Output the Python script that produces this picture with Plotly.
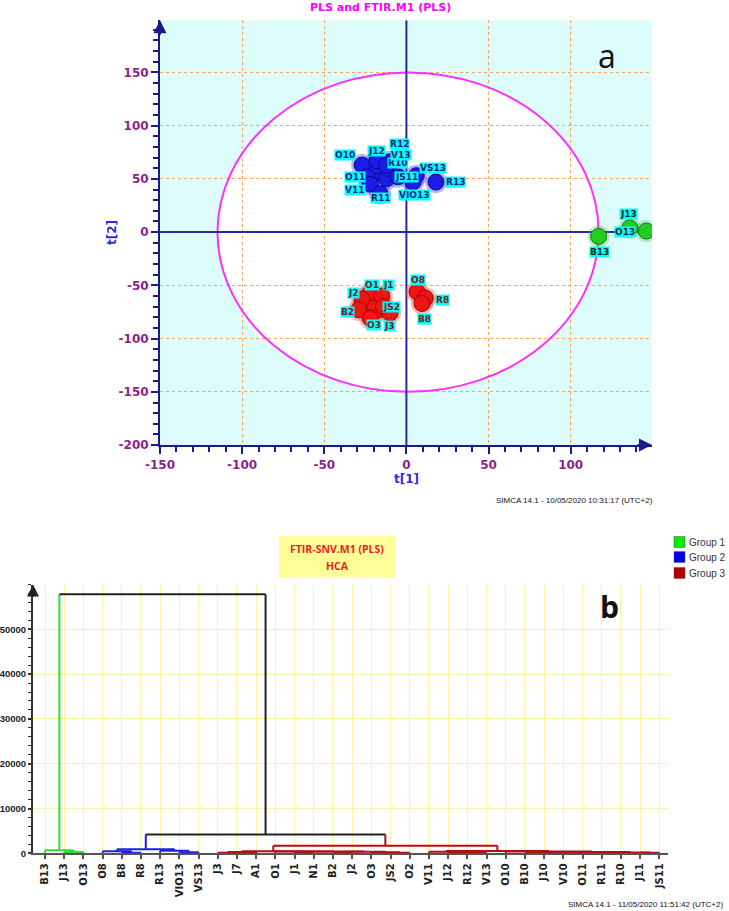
import plotly.graph_objects as go

W, H = 729, 911

# ---------------- Panel a : PLS score plot data ----------------
green_names = ["B13", "J13", "O13"]
green_t1 = [117, 136, 146]
green_t2 = [-4, 4, 1]

blue_names = ["B10", "J10", "V10", "J11", "O10", "J12", "R10", "R12", "V13",
              "O11", "V11", "R11", "JS11", "VS13", "VIO13", "R13"]
blue_t1 = [-20, -15, -18, -12, -27, -18, -11, -10, -12, -24, -22, -16, -5, 6, 4, 18]
blue_t2 = [58, 55, 62, 50, 63, 67, 60, 66, 63, 52, 45, 36, 52, 53, 47, 47]

red_names = ["J7", "A1", "N1", "O2", "O1", "J1", "J2", "B2", "O3", "JS2", "J3",
             "O8", "R8", "B8"]
red_t1 = [-19, -24, -17, -21, -22, -15, -27, -29, -22, -14, -10, 6.5, 11.5, 9.5]
red_t2 = [-68, -70, -73, -66, -57, -60, -63, -73, -81, -70, -76, -56, -62, -67]

x_ticks_a = [-150, -100, -50, 0, 50, 100]
y_ticks_a = [-200, -150, -100, -50, 0, 50, 100, 150]

# ---------------- Panel b : HCA dendrogram data ----------------
leaves = ["B13", "J13", "O13", "O8", "B8", "R8", "R13", "VIO13", "VS13", "J3", "J7",
          "A1", "O1", "J1", "N1", "B2", "J2", "O3", "JS2", "O2", "V11", "J12", "R12",
          "V13", "O10", "B10", "J10", "V10", "O11", "R11", "R10", "J11", "JS11"]
group1 = ["B13", "J13", "O13"]
group2 = ["O8", "B8", "R8", "R13", "VIO13", "VS13"]
# merges: children are leaf names or indices of earlier merges
merge_a = ["J13", "B13", "B8", "O8", "VIO13", "R13", 3, "J3", 7, "J1", "B2", "JS2", "O3", 10, 9,
           "O1", 8, "R12", "J12", "V11", "B10", "V10", "R11", "J11", 20, 22, 24, "O10", 19, 16, 6, 1]
merge_b = ["O13", 0, "R8", 2, "VS13", 4, 5, "J7", "A1", "N1", "J2", "O2", 11, 12, 13,
           14, 15, "V13", 17, 18, "J10", "O11", "R10", "JS11", 21, 23, 25, 26, 27, 28, 29, 30]
merge_h = [300, 700, 150, 450, 250, 550, 900, 150, 300, 120, 100, 150, 250, 320, 380,
           420, 480, 120, 250, 350, 80, 100, 90, 110, 200, 180, 300, 380, 520, 1700, 4200, 57800]
y_ticks_b = [0, 10000, 20000, 30000, 40000, 50000]

# ---------------- helpers ----------------
def px(x):
    return x / W

def py(y):
    return 1 - y / H

NAVY = "#1A1A8C"
PURPLE = "#8C1F8C"
FONT = "DejaVu Sans"

fig = go.Figure()

# ---- panel a traces ----
groups_a = [
    (green_names, green_t1, green_t2, "#22CC22", "#117711", "rgba(60,190,60,0.30)", "#0F2F0F"),
    (blue_names, blue_t1, blue_t2, "#1C1CE8", "#0A0A90", "rgba(90,90,225,0.45)", "#101A80"),
    (red_names, red_t1, red_t2, "#F01515", "#A00000", "rgba(235,90,90,0.45)", "#6E2020"),
]
for names, xs, ys, col, edge, halo, _ in groups_a:
    fig.add_trace(go.Scatter(x=xs, y=ys, mode="markers", xaxis="x", yaxis="y",
                             marker=dict(size=22, color=halo, line=dict(width=0)),
                             hoverinfo="skip", showlegend=False))
for names, xs, ys, col, edge, halo, _ in groups_a:
    fig.add_trace(go.Scatter(x=xs, y=ys, mode="markers", xaxis="x", yaxis="y", text=names,
                             marker=dict(size=16, color=col, line=dict(width=1, color=edge)),
                             showlegend=False))

label_offsets = {
    "O10": (-17, 10), "J12": (0, 10), "R10": (9, 5), "R12": (10, 18), "V13": (14, 10),
    "O11": (-12, 0), "V11": (-15, -6), "R11": (0, -4), "JS11": (8, 0), "VS13": (17, 8),
    "VIO13": (2, -13), "R13": (20, 0),
    "O1": (2, 8), "J1": (7, 11), "J2": (-9, 6), "B2": (-11, -2), "JS2": (8, 0),
    "O3": (4, -7), "J3": (0, -13), "O8": (1, 12), "R8": (17, -2), "B8": (2, -16),
    "B13": (1, -16), "J13": (-1, 14), "O13": (-21, -1),
}
annotations = []
for names, xs, ys, col, edge, halo, tcol in groups_a:
    for n, x, y in zip(names, xs, ys):
        if n in label_offsets:
            dx, dy = label_offsets[n]
            annotations.append(dict(x=x, y=y, xref="x", yref="y", text=n, showarrow=False,
                                    xanchor="center", yanchor="middle",
                                    xshift=dx, yshift=dy, bgcolor="#00FFFF", borderpad=0,
                                    font=dict(family=FONT, size=9, color=tcol, weight="bold")))

# ---- panel b dendrogram ----
leaf_pos = {n: i for i, n in enumerate(leaves)}

def group_of(name):
    if name in group1:
        return 1
    if name in group2:
        return 2
    return 3

gcolor = {1: "#33DD33", 2: "#1F1FE0", 3: "#B01010", None: "#222222"}
nodes = []

def info(c):
    if isinstance(c, str):
        return leaf_pos[c], 0, group_of(c)
    return nodes[c]

segs = {k: ([], []) for k in gcolor}
for a, b, h in zip(merge_a, merge_b, merge_h):
    xa, ha, ga = info(a)
    xb, hb, gb = info(b)
    g = ga if ga == gb else None
    for (x0, y0, x1, y1, gg) in [(xa, ha, xa, h, ga), (xa, h, xb, h, g), (xb, hb, xb, h, gb)]:
        sx, sy = segs[gg]
        sx += [x0, x1, None]
        sy += [y0, y1, None]
    nodes.append(((xa + xb) / 2, h, g))

for g in [3, 2, 1, None]:
    sx, sy = segs[g]
    fig.add_trace(go.Scatter(x=sx, y=sy, mode="lines", xaxis="x2", yaxis="y2",
                             line=dict(color=gcolor[g], width=2), hoverinfo="skip",
                             showlegend=False, cliponaxis=False))

# ---------------- shapes ----------------
shapes = [
    dict(type="rect", xref="x", yref="y", x0=-150, x1=149.5, y0=-200, y1=199,
         fillcolor="#DDFCFC", line=dict(width=0), layer="below"),
    dict(type="circle", xref="x", yref="y", x0=-115, x1=117, y0=-150, y1=150,
         fillcolor="white", line=dict(width=0), layer="below"),
    dict(type="circle", xref="x", yref="y", x0=-115, x1=117, y0=-150, y1=150,
         line=dict(color="#FF2EFF", width=2), layer="between"),
    dict(type="line", xref="x", yref="y", x0=0, x1=0, y0=-200, y1=199,
         line=dict(color="#2A2AA0", width=2), layer="between"),
    dict(type="line", xref="x", yref="y", x0=-150, x1=149.5, y0=0, y1=0,
         line=dict(color="#2A2AA0", width=2), layer="between"),
    # title box panel b
    dict(type="rect", xref="paper", yref="paper", x0=px(279), x1=px(395), y0=py(578), y1=py(536),
         fillcolor="#FFFF99", line=dict(width=0), layer="above"),
]
legend_items = [("Group 1", "#00EE00", 542), ("Group 2", "#0000EE", 557), ("Group 3", "#B40000", 573)]
for lab, col, yc in legend_items:
    shapes.append(dict(type="rect", xref="paper", yref="paper", x0=px(674), x1=px(685),
                       y0=py(yc + 5.5), y1=py(yc - 5.5), fillcolor=col,
                       line=dict(color="#555555", width=0.5), layer="above"))
    annotations.append(dict(x=px(687), y=py(yc), xref="paper", yref="paper", text=lab,
                            showarrow=False, xanchor="left", yanchor="middle",
                            font=dict(family="Liberation Sans", size=10, color="#333333")))

def txt(x, y, text, font, xanchor="center", **kw):
    d = dict(x=px(x), y=py(y), xref="paper", yref="paper", text=text, showarrow=False,
             xanchor=xanchor, yanchor="middle", font=font)
    d.update(kw)
    return d

annotations += [
    txt(380, 8, "PLS and FTIR.M1 (PLS)", dict(family=FONT, size=11, color="#FF00FF", weight="bold")),
    txt(607, 55, "a", dict(family="Open Sans", size=32, color="#111111")),
    txt(406, 479, "t[1]", dict(family=FONT, size=12, color="#2B2BE0", weight="bold")),
    txt(112, 233, "t[2]", dict(family=FONT, size=12, color="#2B2BE0", weight="bold"), textangle=-90),
    txt(494, 500, "SIMCA 14.1 - 10/05/2020 10:31:17 (UTC+2)",
        dict(family="Liberation Sans", size=8, color="#111111"), xanchor="left"),
    txt(566, 904, "SIMCA 14.1 - 11/05/2020 11:51:42 (UTC+2)",
        dict(family="Liberation Sans", size=8, color="#111111"), xanchor="left"),
    txt(337, 549, "FTIR-SNV.M1 (PLS)", dict(family="Open Sans", size=10.5, color="#EE1C1C", weight="bold")),
    txt(337, 566, "HCA", dict(family="Open Sans", size=10.5, color="#EE1C1C", weight="bold")),
    txt(609, 606, "b", dict(family="Open Sans", size=30, color="#111111", weight="bold")),
    # axis arrows
    dict(x=-150, y=199, xref="x", yref="y", text="", showarrow=True, ax=0, ay=16,
         arrowhead=2, arrowsize=1.3, arrowwidth=2, arrowcolor=NAVY),
    dict(x=149.5, y=-200, xref="x", yref="y", text="", showarrow=True, ax=-16, ay=0,
         arrowhead=2, arrowsize=1.3, arrowwidth=2, arrowcolor=NAVY),
    dict(x=-0.625, y=60000, xref="x2", yref="y2", text="", showarrow=True, ax=0, ay=14,
         arrowhead=2, arrowsize=1.2, arrowwidth=2, arrowcolor="#222222"),
]

fig.update_layout(
    width=W, height=H, autosize=False,
    margin=dict(l=0, r=0, t=0, b=0, autoexpand=False),
    paper_bgcolor="white", plot_bgcolor="white",
    showlegend=False,
    xaxis=dict(domain=[px(160), px(652)], range=[-150, 149.5], anchor="y", automargin=False,
               tickvals=x_ticks_a, ticktext=[str(v) for v in x_ticks_a],
               showgrid=True, gridcolor="#F2A65A", griddash="dot", gridwidth=1,
               zeroline=False, showline=True, linecolor=NAVY, linewidth=2,
               ticks="outside", ticklen=7, tickwidth=2, tickcolor=NAVY,
               minor=dict(dtick=10, ticklen=5, tickwidth=1.5, tickcolor=NAVY, showgrid=False),
               tickfont=dict(family=FONT, size=12, color=PURPLE, weight="bold")),
    yaxis=dict(domain=[py(445.1), py(20.2)], range=[-200, 199], anchor="x", automargin=False,
               tickvals=y_ticks_a, ticktext=[str(v) for v in y_ticks_a],
               showgrid=True, gridcolor="#F2A65A", griddash="dot", gridwidth=1,
               zeroline=False, showline=True, linecolor=NAVY, linewidth=2,
               ticks="outside", ticklen=7, tickwidth=2, tickcolor=NAVY,
               minor=dict(dtick=10, ticklen=5, tickwidth=1.5, tickcolor=NAVY, showgrid=False),
               tickfont=dict(family=FONT, size=12, color=PURPLE, weight="bold")),
    xaxis2=dict(domain=[px(33), px(668)], range=[-0.625, 32.45], anchor="y2", automargin=False,
                tickvals=list(range(len(leaves))), ticktext=leaves, tickangle=-90,
                showgrid=True, gridcolor="#FFF1A6", gridwidth=1, zeroline=False,
                showline=True, linecolor="#555555", linewidth=2,
                ticks="outside", ticklen=4, tickwidth=1.5, tickcolor="#555555",
                tickfont=dict(family=FONT, size=10, color="#222222", weight="bold")),
    yaxis2=dict(domain=[py(853.3), py(584.5)], range=[0, 60000], anchor="x2", automargin=False,
                tickvals=y_ticks_b, ticktext=[str(v) for v in y_ticks_b],
                showgrid=True, gridcolor="#FFF1A6", gridwidth=1, zeroline=False,
                showline=True, linecolor="#333333", linewidth=2,
                ticks="outside", ticklen=3, tickwidth=1.5, tickcolor="#333333",
                minor=dict(dtick=2000, ticklen=3, tickwidth=1, tickcolor="#333333", showgrid=False),
                tickfont=dict(family="Liberation Sans", size=9.5, color="#222222", weight="bold")),
    shapes=shapes,
    annotations=annotations,
)

fig.write_html("out.html", config={"displayModeBar": False},
               post_script="document.body.style.margin='0';document.body.style.overflow='hidden';")
